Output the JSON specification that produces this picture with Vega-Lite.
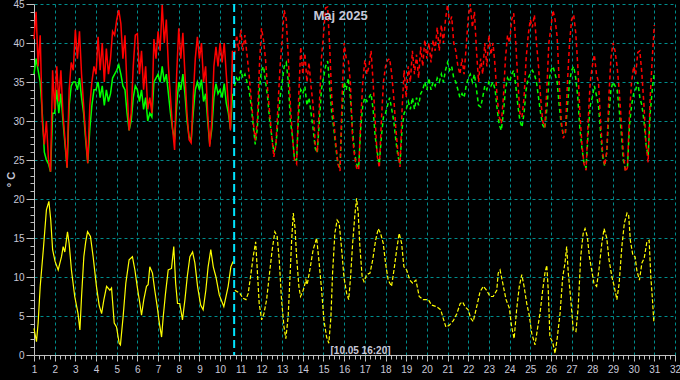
{
 "$schema": "https://vega.github.io/schema/vega-lite/v6.json",
 "width": 641,
 "height": 351,
 "autosize": "none",
 "padding": {"left": 34, "top": 4, "right": 5, "bottom": 25},
 "background": "#000000",
 "title": {"text": "Maj 2025", "color": "#c8c8d8", "font": "Liberation Sans", "fontSize": 13, "fontWeight": "bold", "anchor": "middle", "frame": "group", "dx": -14, "offset": -34, "baseline": "alphabetic"},
 "datasets": {
  "rg": [
   {"t":1.0,"r":40.5,"g":36},{"t":1.1,"r":44,"g":38},{"t":1.2,"r":37,"g":36.5},{"t":1.3,"r":41,"g":35},{"t":1.4,"r":30,"g":31},{"t":1.5,"r":27,"g":26},{"t":1.6,"r":30,"g":25},{"t":1.7,"r":25,"g":24.5},{"t":1.8,"r":23.5,"g":23.5},{"t":1.9,"r":36.5,"g":31},
   {"t":2.0,"r":31.5,"g":31},{"t":2.1,"r":37,"g":34},{"t":2.2,"r":32.5,"g":31},{"t":2.3,"r":36.5,"g":33.5},{"t":2.4,"r":31,"g":30},{"t":2.5,"r":27.5,"g":27},{"t":2.6,"r":24,"g":24},{"t":2.7,"r":34,"g":32},{"t":2.8,"r":37.5,"g":34.5},{"t":2.9,"r":36.5,"g":35},
   {"t":3.0,"r":41.7,"g":35},{"t":3.1,"r":38,"g":34},{"t":3.2,"r":41.5,"g":35.5},{"t":3.3,"r":36,"g":33},{"t":3.4,"r":32,"g":31},{"t":3.5,"r":28,"g":27.5},{"t":3.6,"r":24.6,"g":24.6},{"t":3.7,"r":32,"g":29},{"t":3.8,"r":35,"g":32},{"t":3.9,"r":37,"g":34},
   {"t":4.0,"r":36,"g":34},{"t":4.1,"r":40.8,"g":35},{"t":4.2,"r":36.5,"g":33},{"t":4.3,"r":40,"g":34.5},{"t":4.4,"r":35,"g":32},{"t":4.5,"r":39.3,"g":34},{"t":4.6,"r":36,"g":32.5},{"t":4.7,"r":38,"g":33.5},{"t":4.8,"r":41.5,"g":35.5},{"t":4.9,"r":41,"g":36},
   {"t":5.0,"r":43,"g":36.5},{"t":5.1,"r":44.2,"g":37.2},{"t":5.2,"r":42.5,"g":36},{"t":5.3,"r":38,"g":34.5},{"t":5.4,"r":41,"g":34},{"t":5.5,"r":34,"g":31},{"t":5.6,"r":28.8,"g":28.8},{"t":5.7,"r":31,"g":30},{"t":5.8,"r":37,"g":33},{"t":5.9,"r":41,"g":34.5},
   {"t":6.0,"r":41.2,"g":34},{"t":6.1,"r":36,"g":32.5},{"t":6.2,"r":39,"g":34},{"t":6.3,"r":34,"g":31.5},{"t":6.4,"r":37,"g":33},{"t":6.5,"r":31.5,"g":30},{"t":6.6,"r":33,"g":31},{"t":6.7,"r":31,"g":30.5},{"t":6.8,"r":40.5,"g":35},{"t":6.9,"r":38,"g":35.5},
   {"t":7.0,"r":41.5,"g":36},{"t":7.1,"r":39,"g":35},{"t":7.2,"r":44.9,"g":37},{"t":7.3,"r":40,"g":35},{"t":7.4,"r":43,"g":36},{"t":7.5,"r":37,"g":33.5},{"t":7.6,"r":33,"g":31},{"t":7.7,"r":29,"g":29},{"t":7.8,"r":26.3,"g":27.6},{"t":7.9,"r":36,"g":32},
   {"t":8.0,"r":41.9,"g":35},{"t":8.1,"r":38,"g":34},{"t":8.2,"r":41.3,"g":36},{"t":8.3,"r":36,"g":33.5},{"t":8.4,"r":31,"g":30},{"t":8.5,"r":27.6,"g":28},{"t":8.6,"r":27.2,"g":27.5},{"t":8.7,"r":33,"g":31},{"t":8.8,"r":38,"g":34},{"t":8.9,"r":40.8,"g":35},
   {"t":9.0,"r":38,"g":34},{"t":9.1,"r":40,"g":35.3},{"t":9.2,"r":35,"g":32.5},{"t":9.3,"r":37,"g":33.5},{"t":9.4,"r":31,"g":30},{"t":9.5,"r":26.7,"g":27},{"t":9.6,"r":30,"g":29},{"t":9.7,"r":37,"g":33},{"t":9.8,"r":39.5,"g":34.8},{"t":9.9,"r":37,"g":33.5},
   {"t":10.0,"r":40,"g":34},{"t":10.1,"r":37.5,"g":33},{"t":10.2,"r":40,"g":34.8},{"t":10.3,"r":36,"g":32.3},{"t":10.4,"r":32,"g":31},{"t":10.5,"r":28.8,"g":29},{"t":10.6,"r":39,"g":33.5},
   {"t":10.7,"r":38.5,"g":34.5},{"t":10.8,"r":41,"g":35.5},{"t":10.9,"r":39,"g":35},
   {"t":11.0,"r":41.7,"g":36.5},{"t":11.1,"r":39,"g":35.5},{"t":11.2,"r":41,"g":36},{"t":11.3,"r":38.5,"g":35},{"t":11.4,"r":36,"g":34},{"t":11.5,"r":33,"g":32},{"t":11.6,"r":30,"g":29.5},{"t":11.7,"r":27.5,"g":27},{"t":11.8,"r":30,"g":29},{"t":11.9,"r":37,"g":34},
   {"t":12.0,"r":41.9,"g":36.5},{"t":12.1,"r":40.4,"g":37},{"t":12.2,"r":37.8,"g":35},{"t":12.3,"r":34,"g":33},{"t":12.4,"r":31,"g":30},{"t":12.5,"r":28,"g":28},{"t":12.6,"r":25.4,"g":26},{"t":12.7,"r":27,"g":27},{"t":12.8,"r":32,"g":30},{"t":12.9,"r":37,"g":33},
   {"t":13.0,"r":40.4,"g":35},{"t":13.1,"r":44.2,"g":37},{"t":13.2,"r":43,"g":37.5},{"t":13.3,"r":38,"g":35},{"t":13.4,"r":32,"g":30},{"t":13.5,"r":28,"g":28},{"t":13.6,"r":25,"g":25},{"t":13.7,"r":24.5,"g":25},{"t":13.8,"r":33,"g":31},{"t":13.9,"r":39.5,"g":34},
   {"t":14.0,"r":36,"g":33.5},{"t":14.1,"r":38.7,"g":34.4},{"t":14.2,"r":35,"g":32},{"t":14.3,"r":37.5,"g":33},{"t":14.4,"r":34.4,"g":31},{"t":14.5,"r":32,"g":29},{"t":14.6,"r":27,"g":26.5},{"t":14.7,"r":26,"g":25.9},{"t":14.8,"r":32,"g":30},{"t":14.9,"r":38,"g":34},
   {"t":15.0,"r":41,"g":35.5},{"t":15.1,"r":44.5,"g":37},{"t":15.2,"r":44.6,"g":37.7},{"t":15.3,"r":39.5,"g":34.5},{"t":15.4,"r":33,"g":31},{"t":15.5,"r":30,"g":29},{"t":15.6,"r":27,"g":26.5},{"t":15.7,"r":24.5,"g":24.5},{"t":15.8,"r":23.6,"g":24},{"t":15.9,"r":33,"g":31},
   {"t":16.0,"r":40,"g":35},{"t":16.1,"r":38,"g":34},{"t":16.2,"r":37.8,"g":35.5},{"t":16.3,"r":35,"g":33},{"t":16.4,"r":28,"g":29},{"t":16.5,"r":25.5,"g":26},{"t":16.6,"r":24,"g":24.5},{"t":16.7,"r":23.7,"g":24},{"t":16.8,"r":30,"g":29},{"t":16.9,"r":35,"g":32},
   {"t":17.0,"r":37.8,"g":33},{"t":17.1,"r":36,"g":32.5},{"t":17.2,"r":37,"g":33},{"t":17.3,"r":39,"g":33.5},{"t":17.4,"r":35,"g":31.5},{"t":17.5,"r":30,"g":28},{"t":17.6,"r":25.5,"g":26},{"t":17.7,"r":24,"g":24.5},{"t":17.8,"r":30,"g":28},{"t":17.9,"r":35,"g":30.5},
   {"t":18.0,"r":37,"g":31},{"t":18.1,"r":37.8,"g":32},{"t":18.2,"r":38,"g":33},{"t":18.3,"r":36,"g":31.5},{"t":18.4,"r":33,"g":30},{"t":18.5,"r":29,"g":27.5},{"t":18.6,"r":26,"g":25.5},{"t":18.7,"r":24.1,"g":24.5},{"t":18.8,"r":31.4,"g":29},{"t":18.9,"r":36.5,"g":31},
   {"t":19.0,"r":33,"g":31.5},{"t":19.1,"r":37,"g":32.5},{"t":19.2,"r":35,"g":31.5},{"t":19.3,"r":39,"g":33},{"t":19.4,"r":36,"g":31.5},{"t":19.5,"r":38.5,"g":33},{"t":19.6,"r":35.5,"g":32},{"t":19.7,"r":39.5,"g":33.5},{"t":19.8,"r":37,"g":34},{"t":19.9,"r":40.4,"g":35},
   {"t":20.0,"r":38,"g":34},{"t":20.1,"r":40,"g":35.5},{"t":20.2,"r":37.5,"g":34},{"t":20.3,"r":40.4,"g":35},{"t":20.4,"r":39,"g":34.5},{"t":20.5,"r":42,"g":35.5},{"t":20.6,"r":39,"g":35},{"t":20.7,"r":42.3,"g":36},{"t":20.8,"r":40,"g":35},{"t":20.9,"r":43,"g":36.5},
   {"t":21.0,"r":44.9,"g":37.5},{"t":21.1,"r":42.5,"g":36.5},{"t":21.2,"r":43.4,"g":37},{"t":21.3,"r":40,"g":35.5},{"t":21.4,"r":39,"g":35},{"t":21.5,"r":37,"g":34},{"t":21.6,"r":36,"g":33},{"t":21.7,"r":38,"g":33.5},{"t":21.8,"r":36,"g":33},{"t":21.9,"r":39.5,"g":34.5},
   {"t":22.0,"r":43.3,"g":35.5},{"t":22.1,"r":45,"g":36},{"t":22.2,"r":42,"g":35},{"t":22.3,"r":44,"g":36},{"t":22.4,"r":39,"g":34},{"t":22.5,"r":35,"g":32},{"t":22.6,"r":38,"g":31.8},{"t":22.7,"r":36,"g":33},{"t":22.8,"r":40,"g":34.5},{"t":22.9,"r":37,"g":34},
   {"t":23.0,"r":41,"g":35},{"t":23.1,"r":38.5,"g":34.5},{"t":23.2,"r":40,"g":35},{"t":23.3,"r":37,"g":34},{"t":23.4,"r":33,"g":31.5},{"t":23.5,"r":30.5,"g":29.5},{"t":23.6,"r":29.7,"g":28.8},{"t":23.7,"r":33,"g":31},{"t":23.8,"r":38,"g":34},{"t":23.9,"r":41,"g":35.5},
   {"t":24.0,"r":40,"g":35},{"t":24.1,"r":43,"g":36},{"t":24.2,"r":43.8,"g":36.5},{"t":24.3,"r":40,"g":34.5},{"t":24.4,"r":35,"g":32},{"t":24.5,"r":31,"g":30},{"t":24.6,"r":30.5,"g":29.2},{"t":24.7,"r":33,"g":31},{"t":24.8,"r":38,"g":34},{"t":24.9,"r":41,"g":35.5},
   {"t":25.0,"r":43,"g":36},{"t":25.1,"r":42,"g":36.5},{"t":25.2,"r":43.6,"g":36},{"t":25.3,"r":40,"g":35},{"t":25.4,"r":37,"g":33},{"t":25.5,"r":33,"g":31},{"t":25.6,"r":30,"g":29.5},{"t":25.7,"r":29.2,"g":29},{"t":25.8,"r":34,"g":31.5},{"t":25.9,"r":40,"g":35},
   {"t":26.0,"r":42,"g":36.5},{"t":26.1,"r":44.2,"g":37},{"t":26.2,"r":43,"g":36},{"t":26.3,"r":40.8,"g":35},{"t":26.4,"r":35,"g":32},{"t":26.5,"r":30,"g":29.5},{"t":26.6,"r":27.8,"g":28.3},{"t":26.7,"r":28.5,"g":28.5},{"t":26.8,"r":35,"g":32},{"t":26.9,"r":40,"g":35},
   {"t":27.0,"r":43,"g":36.5},{"t":27.1,"r":43.6,"g":37},{"t":27.2,"r":41.3,"g":35.5},{"t":27.3,"r":37,"g":33},{"t":27.4,"r":31,"g":29},{"t":27.5,"r":27,"g":26.5},{"t":27.6,"r":24.5,"g":24.5},{"t":27.7,"r":23.7,"g":24},{"t":27.8,"r":30,"g":28.5},{"t":27.9,"r":35,"g":32},
   {"t":28.0,"r":37,"g":33},{"t":28.1,"r":38.5,"g":34.5},{"t":28.2,"r":36,"g":33.3},{"t":28.3,"r":35,"g":32},{"t":28.4,"r":30,"g":28.5},{"t":28.5,"r":26,"g":25.5},{"t":28.6,"r":24.3,"g":24.2},{"t":28.7,"r":26,"g":26},{"t":28.8,"r":33,"g":31},{"t":28.9,"r":38,"g":34},
   {"t":29.0,"r":40,"g":35},{"t":29.1,"r":39,"g":34.5},{"t":29.2,"r":37,"g":34},{"t":29.3,"r":34,"g":31.5},{"t":29.4,"r":30,"g":28.5},{"t":29.5,"r":26,"g":25},{"t":29.6,"r":23.5,"g":23.8},{"t":29.7,"r":24,"g":24},{"t":29.8,"r":31,"g":29.5},{"t":29.9,"r":35,"g":32},
   {"t":30.0,"r":37,"g":33.5},{"t":30.1,"r":36,"g":34},{"t":30.2,"r":38.8,"g":35},{"t":30.3,"r":39,"g":33},{"t":30.4,"r":36,"g":32},{"t":30.5,"r":32,"g":30},{"t":30.6,"r":27,"g":27},{"t":30.7,"r":24.7,"g":25.5},{"t":30.8,"r":33,"g":31},{"t":30.9,"r":38,"g":34},
   {"t":31.0,"r":42.3,"g":36.3}
  ],
  "yl": [
   {"t":1.0,"v":3.4},{"t":1.12,"v":1.7},{"t":1.2,"v":4.1},{"t":1.3,"v":8.8},{"t":1.45,"v":13.5},{"t":1.6,"v":18.6},{"t":1.72,"v":19.7},{"t":1.81,"v":17.3},{"t":1.9,"v":13.5},
   {"t":2.02,"v":12},{"t":2.17,"v":10.9},{"t":2.33,"v":12.6},{"t":2.41,"v":13.9},{"t":2.49,"v":13.2},{"t":2.62,"v":15.8},{"t":2.7,"v":14.3},{"t":2.81,"v":10.9},{"t":2.97,"v":7.5},
   {"t":3.13,"v":5.3},{"t":3.22,"v":3.2},{"t":3.3,"v":7.5},{"t":3.41,"v":12.6},{"t":3.5,"v":14.5},{"t":3.59,"v":15.8},{"t":3.73,"v":15.2},{"t":3.86,"v":12.6},
   {"t":4.02,"v":8.8},{"t":4.15,"v":6.4},{"t":4.27,"v":5.3},{"t":4.38,"v":7.1},{"t":4.51,"v":8.8},{"t":4.67,"v":8.3},{"t":4.75,"v":8.6},{"t":4.88,"v":4.1},{"t":4.99,"v":3.6},
   {"t":5.12,"v":1.5},{"t":5.18,"v":1.3},{"t":5.31,"v":4.9},{"t":5.44,"v":9.2},{"t":5.6,"v":12.2},{"t":5.76,"v":12.6},{"t":5.88,"v":10.9},{"t":5.99,"v":8.8},
   {"t":6.12,"v":6.6},{"t":6.2,"v":5.1},{"t":6.31,"v":7.1},{"t":6.44,"v":8.8},{"t":6.52,"v":9},{"t":6.6,"v":11.3},{"t":6.73,"v":10.5},{"t":6.84,"v":8.3},{"t":6.96,"v":6.2},
   {"t":7.05,"v":4.3},{"t":7.17,"v":2.3},{"t":7.25,"v":4.9},{"t":7.36,"v":7.9},{"t":7.49,"v":10.9},{"t":7.65,"v":11.1},{"t":7.76,"v":13.9},{"t":7.85,"v":9.2},{"t":7.94,"v":6.6},
   {"t":8.05,"v":6.6},{"t":8.18,"v":4.5},{"t":8.3,"v":7.1},{"t":8.41,"v":10},{"t":8.54,"v":12.6},{"t":8.67,"v":13.2},{"t":8.78,"v":11.8},{"t":8.91,"v":8.8},
   {"t":9.06,"v":6.4},{"t":9.18,"v":5.8},{"t":9.31,"v":8.3},{"t":9.42,"v":11.3},{"t":9.55,"v":13.5},{"t":9.67,"v":11.3},{"t":9.8,"v":10},{"t":9.96,"v":7.7},
   {"t":10.18,"v":6.2},{"t":10.39,"v":8.8},{"t":10.52,"v":11.3},{"t":10.63,"v":12},
   {"t":10.71,"v":8.3},{"t":10.96,"v":7.9},{"t":11.09,"v":7.3},{"t":11.25,"v":7.1},{"t":11.36,"v":7.9},{"t":11.47,"v":10},{"t":11.6,"v":12.6},{"t":11.72,"v":14.5},{"t":11.79,"v":11.3},{"t":11.89,"v":6.6},
   {"t":12.01,"v":4.5},{"t":12.12,"v":5.3},{"t":12.25,"v":7.1},{"t":12.37,"v":10},{"t":12.52,"v":13.5},{"t":12.65,"v":15.8},{"t":12.76,"v":15.2},{"t":12.86,"v":12.2},{"t":12.97,"v":7.1},
   {"t":13.09,"v":3.6},{"t":13.18,"v":2.1},{"t":13.29,"v":4.9},{"t":13.38,"v":10},{"t":13.46,"v":14.7},{"t":13.54,"v":18.2},{"t":13.62,"v":16.4},{"t":13.7,"v":12.6},{"t":13.81,"v":8.8},{"t":13.89,"v":7.5},
   {"t":14.02,"v":8.3},{"t":14.15,"v":9.6},{"t":14.21,"v":9},{"t":14.34,"v":10.9},{"t":14.5,"v":13.5},{"t":14.67,"v":15},{"t":14.79,"v":11.8},{"t":14.91,"v":8.3},
   {"t":15.02,"v":4.5},{"t":15.15,"v":2.3},{"t":15.26,"v":1.5},{"t":15.36,"v":4.9},{"t":15.44,"v":10.5},{"t":15.55,"v":15.6},{"t":15.66,"v":17.3},{"t":15.76,"v":16.9},{"t":15.88,"v":13.5},{"t":15.99,"v":10},
   {"t":16.12,"v":7.9},{"t":16.22,"v":7.1},{"t":16.31,"v":10},{"t":16.41,"v":14.3},{"t":16.51,"v":17.7},{"t":16.6,"v":20.1},{"t":16.68,"v":18.2},{"t":16.76,"v":13.9},{"t":16.87,"v":10},{"t":16.96,"v":9.4},
   {"t":17.09,"v":10.3},{"t":17.25,"v":10.5},{"t":17.38,"v":12.2},{"t":17.52,"v":14.7},{"t":17.65,"v":16.2},{"t":17.76,"v":15.6},{"t":17.89,"v":14.3},
   {"t":18.0,"v":11.8},{"t":18.13,"v":9.6},{"t":18.29,"v":8.8},{"t":18.41,"v":10.9},{"t":18.54,"v":13.5},{"t":18.66,"v":15.6},{"t":18.78,"v":14.3},{"t":18.89,"v":11.3},
   {"t":19.02,"v":10.9},{"t":19.18,"v":9.6},{"t":19.31,"v":9.2},{"t":19.47,"v":9.6},{"t":19.63,"v":7.5},{"t":19.82,"v":7.1},
   {"t":20.07,"v":7.1},{"t":20.23,"v":6.4},{"t":20.47,"v":6.2},{"t":20.67,"v":5.8},{"t":20.79,"v":4.7},{"t":20.92,"v":3.6},
   {"t":21.08,"v":3.8},{"t":21.28,"v":4.4},{"t":21.45,"v":5.3},{"t":21.61,"v":6.6},{"t":21.73,"v":6.8},{"t":21.84,"v":6.2},
   {"t":22.0,"v":5.8},{"t":22.12,"v":4.7},{"t":22.24,"v":4.3},{"t":22.41,"v":6.2},{"t":22.57,"v":8.1},{"t":22.73,"v":8.8},{"t":22.89,"v":8.3},
   {"t":23.05,"v":7.5},{"t":23.21,"v":7.5},{"t":23.38,"v":8.3},{"t":23.45,"v":10.5},{"t":23.54,"v":10.9},{"t":23.67,"v":9.2},{"t":23.83,"v":7.1},{"t":23.99,"v":6},
   {"t":24.1,"v":3.6},{"t":24.22,"v":2.1},{"t":24.34,"v":5.8},{"t":24.47,"v":8.8},{"t":24.59,"v":10.3},{"t":24.7,"v":8.8},{"t":24.83,"v":6.6},{"t":24.95,"v":5.1},
   {"t":25.07,"v":2.8},{"t":25.23,"v":1.3},{"t":25.34,"v":3.2},{"t":25.47,"v":5.3},{"t":25.6,"v":8.3},{"t":25.71,"v":10.5},{"t":25.8,"v":11.5},{"t":25.87,"v":8.3},{"t":25.95,"v":2.3},
   {"t":26.08,"v":1.7},{"t":26.2,"v":0.2},{"t":26.31,"v":2.3},{"t":26.44,"v":5.3},{"t":26.57,"v":10},{"t":26.68,"v":11.8},{"t":26.76,"v":13.9},{"t":26.84,"v":10.5},{"t":26.96,"v":7.1},
   {"t":27.08,"v":3.2},{"t":27.21,"v":3},{"t":27.32,"v":6.2},{"t":27.44,"v":12.6},{"t":27.56,"v":15.6},{"t":27.65,"v":16.2},{"t":27.76,"v":15.2},{"t":27.86,"v":12.6},{"t":27.97,"v":10.9},
   {"t":28.08,"v":9.2},{"t":28.21,"v":8.8},{"t":28.32,"v":10.9},{"t":28.46,"v":14.3},{"t":28.57,"v":16.2},{"t":28.7,"v":15},{"t":28.81,"v":12.2},{"t":28.95,"v":10},
   {"t":29.06,"v":8.8},{"t":29.19,"v":7.1},{"t":29.3,"v":9.2},{"t":29.43,"v":13.9},{"t":29.55,"v":16.9},{"t":29.68,"v":18.2},{"t":29.76,"v":17.9},{"t":29.84,"v":14.7},{"t":29.96,"v":12.8},
   {"t":30.07,"v":12.6},{"t":30.15,"v":10.9},{"t":30.28,"v":9.6},{"t":30.4,"v":11.8},{"t":30.51,"v":12.4},{"t":30.64,"v":14.5},{"t":30.75,"v":14.7},{"t":30.83,"v":10},{"t":30.9,"v":7.5},{"t":30.98,"v":4.1}
  ]
 },
 "layer": [
  {
   "data": {"name": "rg"},
   "transform": [{"filter": "datum.t <= 10.65"}],
   "mark": {"type": "line", "color": "#00ff00", "strokeWidth": 1.5},
   "encoding": {
    "x": {"field": "t", "type": "quantitative",
     "scale": {"domain": [1, 32], "nice": false, "zero": false},
     "axis": {
      "values": [1,1.25,1.5,1.75,2,2.25,2.5,2.75,3,3.25,3.5,3.75,4,4.25,4.5,4.75,5,5.25,5.5,5.75,6,6.25,6.5,6.75,7,7.25,7.5,7.75,8,8.25,8.5,8.75,9,9.25,9.5,9.75,10,10.25,10.5,10.75,11,11.25,11.5,11.75,12,12.25,12.5,12.75,13,13.25,13.5,13.75,14,14.25,14.5,14.75,15,15.25,15.5,15.75,16,16.25,16.5,16.75,17,17.25,17.5,17.75,18,18.25,18.5,18.75,19,19.25,19.5,19.75,20,20.25,20.5,20.75,21,21.25,21.5,21.75,22,22.25,22.5,22.75,23,23.25,23.5,23.75,24,24.25,24.5,24.75,25,25.25,25.5,25.75,26,26.25,26.5,26.75,27,27.25,27.5,27.75,28,28.25,28.5,28.75,29,29.25,29.5,29.75,30,30.25,30.5,30.75,31,31.25,31.5,31.75,32],
      "tickCount": 500,
      "labelExpr": "datum.value % 1 === 0 ? format(datum.value, 'd') : ''",
      "labelOverlap": false, "labelFlush": false, "labelBound": false,
      "tickSize": {"condition": {"test": "datum.value % 1 !== 0", "value": 4}, "value": 6},
      "gridOpacity": {"condition": {"test": "datum.value % 1 !== 0 || datum.value === 1", "value": 0}, "value": 1},
      "labelPadding": 3,
      "title": "[10.05 16:20]", "titleX": 326, "titleY": -2, "titleBaseline": "alphabetic", "titleAlign": "center",
      "titleFontSize": 10, "titleFontWeight": "bold", "titleColor": "#c8c8d8", "titleFont": "Liberation Sans"
     }
    },
    "y": {"field": "g", "type": "quantitative",
     "scale": {"domain": [0, 45], "nice": false},
     "axis": {
      "values": [0,1,2,3,4,5,6,7,8,9,10,11,12,13,14,15,16,17,18,19,20,21,22,23,24,25,26,27,28,29,30,31,32,33,34,35,36,37,38,39,40,41,42,43,44,45],
      "tickCount": 500,
      "labelExpr": "datum.value % 5 === 0 ? format(datum.value, 'd') : ''",
      "labelOverlap": false, "labelFlush": false, "labelBound": false,
      "tickSize": {"condition": {"test": "datum.value % 5 !== 0", "value": 4}, "value": 8},
      "gridOpacity": {"condition": {"test": "datum.value % 5 !== 0 || datum.value === 0", "value": 0}, "value": 1},
      "labelPadding": 2,
      "title": "° C", "titleAngle": -90, "titleX": -23, "titleY": 175, "titleAlign": "center", "titleBaseline": "middle",
      "titleFontSize": 11, "titleFontWeight": "bold", "titleColor": "#c8c8d8", "titleFont": "Liberation Sans"
     }
    }
   }
  },
  {
   "data": {"name": "rg"},
   "transform": [{"filter": "datum.t <= 10.65"}],
   "mark": {"type": "line", "color": "#ff0000", "strokeWidth": 1.5},
   "encoding": {"x": {"field": "t", "type": "quantitative"}, "y": {"field": "r", "type": "quantitative"}}
  },
  {
   "data": {"name": "rg"},
   "transform": [{"filter": "datum.t >= 10.7"}],
   "mark": {"type": "line", "color": "#00ff00", "strokeWidth": 1.5, "strokeDash": [4, 3]},
   "encoding": {"x": {"field": "t", "type": "quantitative"}, "y": {"field": "g", "type": "quantitative"}}
  },
  {
   "data": {"name": "rg"},
   "transform": [{"filter": "datum.t >= 10.7"}],
   "mark": {"type": "line", "color": "#ff0000", "strokeWidth": 1.5, "strokeDash": [4, 3]},
   "encoding": {"x": {"field": "t", "type": "quantitative"}, "y": {"field": "r", "type": "quantitative"}}
  },
  {
   "data": {"name": "yl"},
   "transform": [{"filter": "datum.t <= 10.65"}],
   "mark": {"type": "line", "color": "#ffff00", "strokeWidth": 1.2},
   "encoding": {"x": {"field": "t", "type": "quantitative"}, "y": {"field": "v", "type": "quantitative"}}
  },
  {
   "data": {"name": "yl"},
   "transform": [{"filter": "datum.t >= 10.7"}],
   "mark": {"type": "line", "color": "#ffff00", "strokeWidth": 1.2, "strokeDash": [4, 2]},
   "encoding": {"x": {"field": "t", "type": "quantitative"}, "y": {"field": "v", "type": "quantitative"}}
  },
  {
   "data": {"values": [{"t": 10.68}]},
   "mark": {"type": "rule", "color": "#00e5ff", "strokeWidth": 2, "strokeDash": [8, 4]},
   "encoding": {"x": {"field": "t", "type": "quantitative"}}
  }
 ],
 "config": {
  "view": {"stroke": null},
  "axis": {
   "domainColor": "#c0c0c0", "tickColor": "#c0c0c0",
   "labelColor": "#c8c8d8", "labelFont": "Liberation Sans", "labelFontSize": 10,
   "gridColor": "#008c8c", "gridDash": [3, 3], "gridWidth": 1
  }
 }
}
